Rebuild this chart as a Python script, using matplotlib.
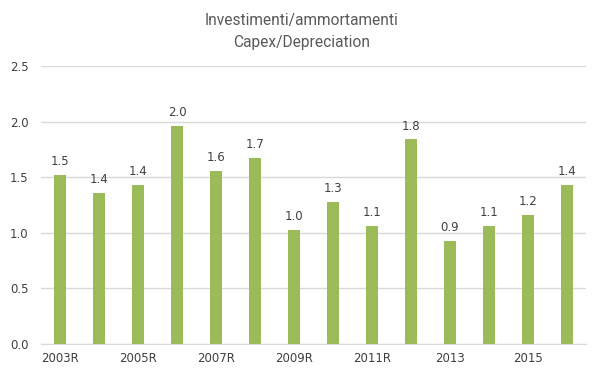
import matplotlib
matplotlib.use("Agg")
import matplotlib.pyplot as plt

categories = ["2003R", "2004R", "2005R", "2006R", "2007R", "2008R", "2009R",
              "2010R", "2011R", "2012R", "2013", "2014", "2015", "2016"]
values = [1.52, 1.36, 1.43, 1.96, 1.56, 1.67, 1.03, 1.28, 1.06, 1.84, 0.93, 1.06, 1.16, 1.43]
labels = ["1.5", "1.4", "1.4", "2.0", "1.6", "1.7", "1.0", "1.3", "1.1", "1.8", "0.9", "1.1", "1.2", "1.4"]
shown_ticks = ["2003R", "", "2005R", "", "2007R", "", "2009R", "", "2011R", "", "2013", "", "2015", ""]
yticks = [0.0, 0.5, 1.0, 1.5, 2.0, 2.5]
title = "Investimenti/ammortamenti\nCapex/Depreciation"

fig = plt.figure(figsize=(6.0, 3.78), dpi=100)
ax = fig.add_axes([0.068, 0.09, 0.909, 0.735])

x = list(range(len(categories)))
ax.bar(x, values, width=0.31, color="#9BBB59", zorder=3)
for xi, v, lab in zip(x, values, labels):
    ax.annotate(lab, (xi, v), xytext=(0, 5), textcoords="offset points",
                ha="center", va="bottom", fontsize=8.5, color="#404040")

ax.set_xlim(-0.5, len(categories) - 0.5)
ax.set_ylim(0, 2.5)
ax.set_yticks(yticks)
ax.set_yticklabels([f"{t:.1f}" for t in yticks])
ax.set_xticks(x)
ax.set_xticklabels(shown_ticks)
ax.tick_params(axis="both", length=0, labelsize=8.5, labelcolor="#404040")
ax.tick_params(axis="y", pad=9)
ax.tick_params(axis="x", pad=6)
ax.grid(axis="y", color="#d9d9d9", linewidth=1, zorder=0)
for s in ["top", "left", "right"]:
    ax.spines[s].set_visible(False)
ax.spines["bottom"].set_color("#d9d9d9")

fig.text(0.503, 0.966, title, ha="center", va="top", fontsize=11.2,
         color="#595959", family=["Roboto", "DejaVu Sans"], linespacing=1.6)

fig.savefig("out.png", dpi=100)
